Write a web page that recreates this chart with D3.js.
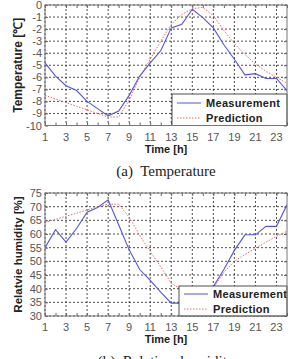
<!DOCTYPE html>
<meta charset="utf-8">
<script src="https://d3js.org/d3.v7.min.js"></script>
<style>
  body { margin: 0; background: #fff; }
  text { font-family: "Liberation Sans", Arial, sans-serif; }
</style>
<div id="chart"></div>
<script>
  // hours on the x axis
  var hours = d3.range(1, 25);
  var hourTicks = [1, 3, 5, 7, 9, 11, 13, 15, 17, 19, 21, 23];

  // temperature panel (a)
  var tempMeasured = [-4.8, -5.9, -6.7, -7.1, -8.0, -8.6, -9.2, -8.8, -7.5, -5.9, -4.8, -3.8,
                      -1.9, -1.6, -0.35, -1.05, -1.9, -3.3, -4.5, -5.8, -5.7, -6.1, -6.1, -7.1];
  var tempPredicted = [-7.5, -7.8, -8.1, -8.4, -8.7, -9.0, -9.3, -9.3, -7.9, -6.0, -4.5, -3.0,
                       -1.6, -0.8, -0.3, -0.2, -0.9, -2.1, -3.2, -4.1, -4.9, -5.5, -6.0, -6.5];
  var tempTicks = [0, -1, -2, -3, -4, -5, -6, -7, -8, -9, -10];

  // humidity panel (b)
  var humMeasured = [55, 61.6, 57, 62, 68, 69.7, 72.5, 63.4, 54.2, 47, 43, 38.7,
                     34.7, 34.7, 36.5, 38.5, 40.8, 47, 54, 59.7, 59.7, 62.8, 62.8, 70.7];
  var humPredicted = [64.2, 65.3, 66.5, 67.6, 68.8, 70, 70.9, 70.9, 66.2, 59.5, 53.6, 48,
                      42, 39.5, 38.5, 38.5, 40.3, 46, 50, 52.5, 54.8, 57, 59.2, 61];
  var humTicks = [75, 70, 65, 60, 55, 50, 45, 40, 35, 30];

  var legendNames = ["Measurement", "Prediction"];

  var W = 292, H = 359;
  var svg = d3.select("#chart").append("svg")
    .attr("width", W).attr("height", H);

  var x = d3.scaleLinear().domain([1, 24]).range([45, 287]);

  function panel(id, top, bottom, domain, ticks, measured, predicted, yTitle, titleSize, caption, legendBox) {
    var y = d3.scaleLinear().domain(domain).range([bottom, top]);
    var g = svg.append("g");

    g.append("clipPath").attr("id", "clip" + id)
      .append("rect").attr("x", x(1)).attr("y", top)
      .attr("width", x(24) - x(1)).attr("height", bottom - top);

    // dotted grid
    g.selectAll(".vg").data(hourTicks).enter().append("line")
      .attr("x1", function (d) { return x(d); }).attr("x2", function (d) { return x(d); })
      .attr("y1", top).attr("y2", bottom)
      .attr("stroke", "#222").attr("stroke-width", 0.8).attr("stroke-dasharray", "2,2");
    g.selectAll(".hg").data(ticks).enter().append("line")
      .attr("x1", x(1)).attr("x2", x(24))
      .attr("y1", function (d) { return y(d); }).attr("y2", function (d) { return y(d); })
      .attr("stroke", "#222").attr("stroke-width", 0.8).attr("stroke-dasharray", "2,2");

    // inward ticks
    g.append("g").attr("transform", "translate(0," + bottom + ")")
      .call(d3.axisTop(x).tickValues(hours).tickSize(3).tickFormat(""))
      .call(function (a) { a.select(".domain").remove(); a.selectAll("line").attr("stroke", "#666"); });
    g.append("g").attr("transform", "translate(0," + top + ")")
      .call(d3.axisBottom(x).tickValues(hours).tickSize(3).tickFormat(""))
      .call(function (a) { a.select(".domain").remove(); a.selectAll("line").attr("stroke", "#666"); });
    g.append("g").attr("transform", "translate(" + x(1) + ",0)")
      .call(d3.axisRight(y).tickValues(ticks).tickSize(3).tickFormat(""))
      .call(function (a) { a.select(".domain").remove(); a.selectAll("line").attr("stroke", "#666"); });
    g.append("g").attr("transform", "translate(" + x(24) + ",0)")
      .call(d3.axisLeft(y).tickValues(ticks).tickSize(3).tickFormat(""))
      .call(function (a) { a.select(".domain").remove(); a.selectAll("line").attr("stroke", "#666"); });

    // lines
    var line = function (vals) {
      return d3.line().x(function (d, i) { return x(hours[i]); })
        .y(function (d) { return y(d); })(vals);
    };
    var lines = g.append("g").attr("clip-path", "url(#clip" + id + ")");
    lines.append("path").attr("d", line(predicted))
      .attr("fill", "none").attr("stroke", "#e86a6a").attr("stroke-width", 1)
      .attr("stroke-dasharray", "1.5,1.5");
    lines.append("path").attr("d", line(measured))
      .attr("fill", "none").attr("stroke", "#5555d5").attr("stroke-width", 1.1);

    // legend
    var lg = g.append("g");
    lg.append("rect").attr("x", legendBox[0]).attr("y", legendBox[1])
      .attr("width", x(24) - legendBox[0]).attr("height", legendBox[2])
      .attr("fill", "#fff").attr("stroke", "#222").attr("stroke-width", 0.8);
    legendNames.forEach(function (name, i) {
      var ly = legendBox[1] + legendBox[3] + i * legendBox[4];
      lg.append("line")
        .attr("x1", legendBox[0] + 5).attr("x2", legendBox[0] + 29)
        .attr("y1", ly).attr("y2", ly)
        .attr("stroke", i == 0 ? "#5555d5" : "#e86a6a")
        .attr("stroke-dasharray", i == 0 ? null : "1.5,1.5");
      lg.append("text").attr("x", legendBox[0] + 34).attr("y", ly + 4)
        .attr("font-size", "11px").attr("font-weight", "bold").attr("fill", "#222")
        .attr("letter-spacing", "0.3px")
        .text(name);
    });

    // frame
    g.append("rect").attr("x", x(1)).attr("y", top)
      .attr("width", x(24) - x(1)).attr("height", bottom - top)
      .attr("fill", "none").attr("stroke", "#777").attr("stroke-width", 1);

    // tick labels
    g.selectAll(".xl").data(hourTicks).enter().append("text")
      .attr("x", function (d) { return x(d); }).attr("y", bottom + 15)
      .attr("text-anchor", "middle").attr("font-size", "11px").attr("fill", "#555")
      .text(function (d) { return d; });
    g.selectAll(".yl").data(ticks).enter().append("text")
      .attr("x", x(1) - 3).attr("y", function (d) { return y(d) + 4; })
      .attr("text-anchor", "end").attr("font-size", "11px").attr("fill", "#555")
      .text(function (d) { return d; });

    // titles
    g.append("text").attr("x", (x(1) + x(24)) / 2).attr("y", bottom + 27)
      .attr("text-anchor", "middle").attr("font-size", "11px").attr("font-weight", "bold")
      .attr("fill", "#222").text("Time [h]");
    g.append("text")
      .attr("transform", "translate(22," + (top + bottom) / 2 + ")rotate(-90)")
      .attr("text-anchor", "middle").attr("font-size", titleSize).attr("font-weight", "bold")
      .attr("fill", "#222").text(yTitle);
    g.append("text").attr("x", (x(1) + x(24)) / 2).attr("y", bottom + 50)
      .attr("text-anchor", "middle").attr("font-size", "15px")
      .style("font-family", "'Liberation Serif', 'Times New Roman', serif")
      .style("white-space", "pre")
      .attr("fill", "#222").text(caption);
  }

  panel("a", 5, 125.5, [-10, 0], tempTicks, tempMeasured, tempPredicted,
    "Temperature [\u2103]", "12px", "(a)  Temperature", [172, 94, 31.5, 9, 15]);
  panel("b", 193, 316, [30, 75], humTicks, humMeasured, humPredicted,
    "Relatvie humidity [%]", "11.5px", "(b)  Relative  humidity", [179, 286, 30, 8, 15]);
</script>
